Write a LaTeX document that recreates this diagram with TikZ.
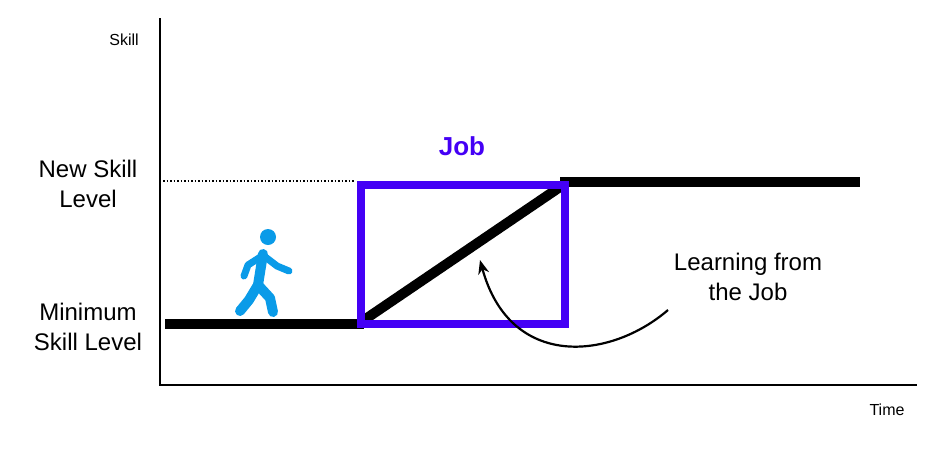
\documentclass[tikz,border=0pt]{standalone}
\usepackage{fontspec}
\setmainfont{Liberation Sans}
\usetikzlibrary{arrows.meta}
\definecolor{jobblue}{HTML}{4400F5}
\definecolor{walker}{HTML}{0A9BE8}
\begin{document}
\begin{tikzpicture}[x=1pt,y=-1pt,
  lbl/.style={font=\fontsize{24}{30}\selectfont,align=center},
  axis/.style={line width=2pt},
  lvl/.style={line width=10pt},
  fig/.style={walker,line width=10pt,line cap=round,line join=round}]
\path[use as bounding box] (0,0) rectangle (952,448);
\coordinate (o) at (160,385);
\coordinate (ytop) at (160,18);
\coordinate (xend) at (917,385);
\draw[axis] (ytop) -- (o) -- (xend);
\node[font=\fontsize{16}{18}\selectfont] (skill) at (124,40) {Skill};
\node[font=\fontsize{16}{18}\selectfont] (time) at (887,410) {Time};
\node[lbl] (new) at (88,184) {New Skill\\Level};
\node[lbl] (min) at (88,327) {Minimum\\Skill Level};
\coordinate (a) at (165,324);
\coordinate (b) at (364,324);
\coordinate (c) at (560,187);
\coordinate (d) at (860,182);
\draw[lvl] (a) -- (b);
\draw[lvl] (364,320) -- (c);
\draw[lvl] (560,182) -- (d);
\draw[line width=1.5pt,dotted] (163,181) -- (355,181);
\node[draw=jobblue,line width=8pt,minimum width=204pt,minimum height=139pt,inner sep=0] (job) at (462.5,254) {};
\node[font=\bfseries\fontsize{26}{30}\selectfont,text=jobblue] (jobl) at (462,146) {Job};
\node[lbl] (learn) at (748,277) {Learning from\\the Job};
\coordinate (s) at (668,310);
\coordinate (t) at (480,260);
\draw[line width=2.2pt,-{Stealth[length=14pt,width=11pt]}] (s) .. controls (610,360) and (510,370) .. (t);
% walker
\fill[walker] (268,237) circle (8);
\draw[fig] (263,254) -- (258,285);
\draw[fig] (258,285) -- (270,298) -- (273,312);
\draw[fig] (258,285) -- (249,300) -- (240,311);
\draw[fig,line width=7pt] (262,256) -- (248,265) -- (244,276);
\draw[fig,line width=7pt] (264,256) -- (277,266) -- (289,271);
\end{tikzpicture}
\end{document}
